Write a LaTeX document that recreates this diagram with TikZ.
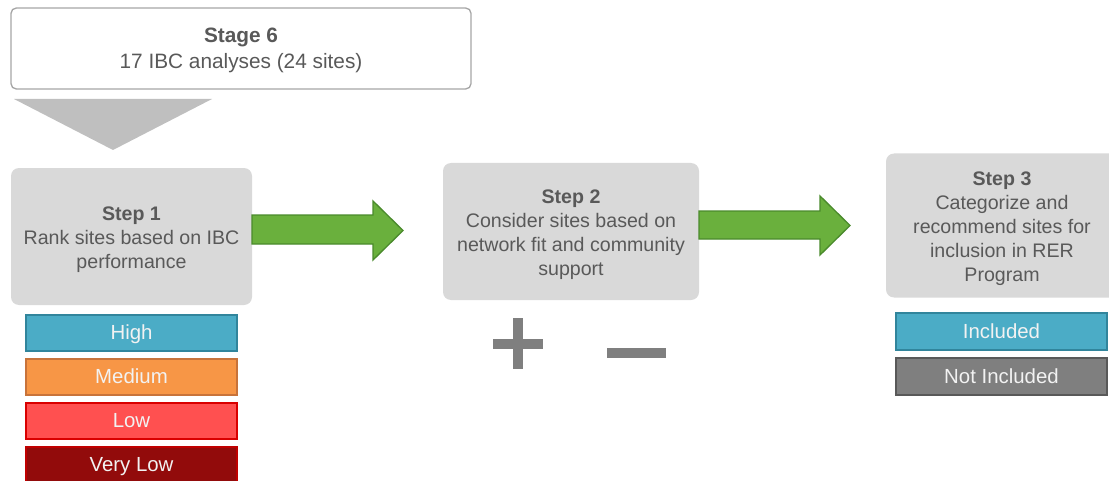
\documentclass[tikz,border=0pt]{standalone}
\usepackage{fontspec}
\setmainfont{Liberation Sans}
\begin{document}
\begin{tikzpicture}[x=0.75pt,y=-0.75pt,
  txt/.style={text=txtgray,align=center,font=\fontsize{14.7}{18}\selectfont},
  stepbox/.style={fill=boxgray,rounded corners=6pt,inner sep=0pt},
  level/.style={draw,line width=1.5pt,minimum width=211*0.75pt,minimum height=36*0.75pt,inner sep=0pt,text height=11pt,text depth=0pt,text=white!95!black,font=\fontsize{15.3}{18}\selectfont},
  greenarrow/.style={fill=arrowgreen,draw=arrowdark,line width=1pt,line join=miter},
  sign/.style={draw=signgray,line width=7.5pt}
]
\definecolor{txtgray}{HTML}{595959}
\definecolor{boxgray}{HTML}{D9D9D9}
\definecolor{trigray}{HTML}{BFBFBF}
\definecolor{bordergray}{HTML}{A6A6A6}
\definecolor{highfill}{HTML}{4BACC6}
\definecolor{highdraw}{HTML}{31859C}
\definecolor{medfill}{HTML}{F79646}
\definecolor{meddraw}{HTML}{C8733A}
\definecolor{lowfill}{HTML}{FF5050}
\definecolor{lowdraw}{HTML}{D90000}
\definecolor{vlowfill}{HTML}{920B0B}
\definecolor{vlowdraw}{HTML}{C00000}
\definecolor{nifill}{HTML}{7F7F7F}
\definecolor{nidraw}{HTML}{595959}
\definecolor{arrowgreen}{HTML}{6AB03D}
\definecolor{arrowdark}{HTML}{4A8A2C}
\definecolor{signgray}{HTML}{7F7F7F}
\useasboundingbox (0,0) rectangle (1109,481);
\clip (0,0) rectangle (1109,481);

% Stage 6
\node[draw=bordergray,line width=1pt,fill=white,rounded corners=4pt,minimum width=460*0.75pt,minimum height=81*0.75pt,inner sep=0pt] (stage) at (241,48.5) {};
\node[txt,font=\fontsize{15.6}{19.5}\selectfont] (stagetext) at ([yshift=-1.5pt]stage.center) {\textbf{Stage 6}\\17 IBC analyses (24 sites)};

% funnel triangle
\fill[trigray] (14,99) coordinate (t1) -- (212,99) coordinate (t2) -- (113,150) coordinate (t3) -- cycle;

% steps
\node[stepbox,minimum width=241*0.75pt,minimum height=137*0.75pt] (s1) at (131.5,236.5) {};
\node[txt] (s1text) at ([yshift=-2.3pt]s1.center) {\textbf{Step 1}\\Rank sites based on IBC\\performance};
\node[stepbox,minimum width=256*0.75pt,minimum height=137*0.75pt] (s2) at (571,231.5) {};
\node[txt] (s2text) at ([yshift=-2.6pt]s2.center) {\textbf{Step 2}\\Consider sites based on\\network fit and community\\support};
\node[stepbox,minimum width=232*0.75pt,minimum height=144*0.75pt] (s3) at (1002,225.5) {};
\node[txt] (s3text) at ([yshift=-2.3pt]s3.center) {\textbf{Step 3}\\Categorize and\\recommend sites for\\inclusion in RER\\Program};

% green arrows
\draw[greenarrow] (252,215) -- (373,215) -- (373,201) -- (403,230.5) -- (373,260) -- (373,244) -- (252,244) -- cycle;
\draw[greenarrow] (699,211) -- (820,211) -- (820,196) -- (850,225.5) -- (820,255) -- (820,239) -- (699,239) -- cycle;

% levels
\node[level,fill=highfill,draw=highdraw] (high) at (131.5,332.5) {High};
\node[level,fill=medfill,draw=meddraw] (med) at (131.5,376.5) {Medium};
\node[level,fill=lowfill,draw=lowdraw] (low) at (131.5,420.5) {Low};
\node[level,fill=vlowfill,draw=vlowdraw] (vlow) at (131.5,464.5) {Very Low};

\node[level,fill=highfill,draw=highdraw,minimum height=37*0.75pt] (inc) at (1001.5,331) {Included};
\node[level,fill=nifill,draw=nidraw,minimum height=37*0.75pt] (ninc) at (1001.5,376) {Not Included};

% plus and minus
\draw[sign] (493,343.5) -- (543,343.5);
\draw[sign] (518,318) -- (518,369);
\draw[sign] (607,353) -- (666,353);
\end{tikzpicture}
\end{document}
